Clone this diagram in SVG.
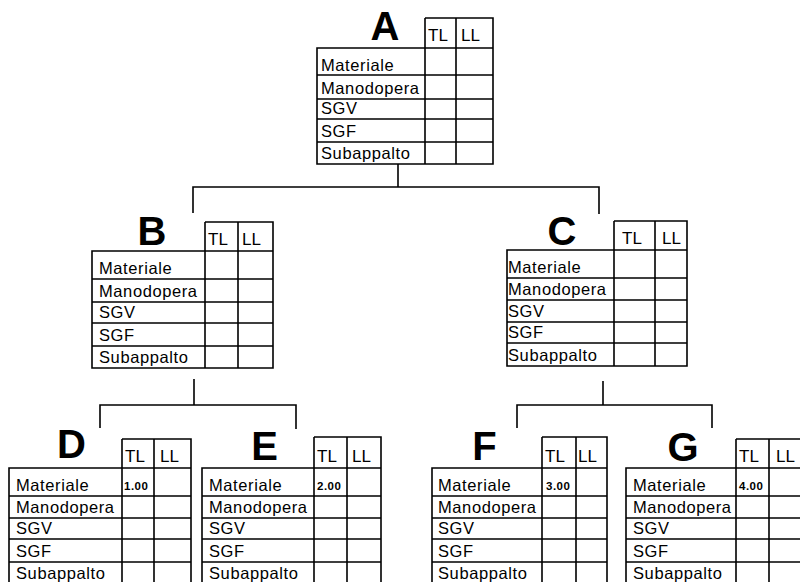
<svg xmlns="http://www.w3.org/2000/svg" width="800" height="582" viewBox="0 0 800 582">
<style>
.t{fill:none;stroke:#000;stroke-width:1.6}
.c{fill:none;stroke:#000;stroke-width:1.6}
.lb{font-family:"Liberation Sans",Arial,sans-serif;font-size:16.5px;letter-spacing:0.6px;fill:#000}
.h{font-family:"Liberation Sans",Arial,sans-serif;font-size:17px;fill:#000}
.big{font-family:"Liberation Sans",Arial,sans-serif;font-size:40px;font-weight:bold;text-anchor:middle;fill:#000}
.v{font-family:"Liberation Sans",Arial,sans-serif;font-size:11.5px;font-weight:bold;letter-spacing:0.5px;fill:#000}
</style>
<rect width="800" height="582" fill="#fff"/>
<g id="connectors">
<path class="c" d="M398,164 V187 M193,213 V187 H599 V214"/>
<path class="c" d="M194,379 V405 M100,428 V405 H296 V429"/>
<path class="c" d="M603,381 V405 M517,428 V405 H712 V428"/>
</g>
<g id="A">
<text class="big" x="385" y="40">A</text>
<path class="t" d="M317,48 H493 V164 H317 Z M425,18 H493 V48 M425,18 V164 M456,18 V164 M317,75 H493 M317,99 H493 M317,119 H493 M317,142 H493"/>
<text class="h" x="428" y="41">TL</text><text class="h" x="461" y="41">LL</text>
<text class="lb" x="321" y="71">Materiale</text>
<text class="lb" x="321" y="94">Manodopera</text>
<text class="lb" x="321" y="114">SGV</text>
<text class="lb" x="321" y="137">SGF</text>
<text class="lb" x="321" y="159">Subappalto</text>
</g>
<g id="B">
<text class="big" x="152" y="245">B</text>
<path class="t" d="M92,251 H273 V368 H92 Z M205,222 H273 V251 M205,222 V368 M238,222 V368 M92,279 H273 M92,302 H273 M92,323 H273 M92,346 H273"/>
<text class="h" x="208" y="245">TL</text><text class="h" x="242" y="245">LL</text>
<text class="lb" x="99" y="274">Materiale</text>
<text class="lb" x="99" y="297">Manodopera</text>
<text class="lb" x="99" y="318">SGV</text>
<text class="lb" x="99" y="341">SGF</text>
<text class="lb" x="99" y="363">Subappalto</text>
</g>
<g id="C">
<text class="big" x="562" y="245">C</text>
<path class="t" d="M507,250 H687 V366 H507 Z M614,221 H687 V250 M614,221 V366 M655,221 V366 M507,278 H687 M507,300 H687 M507,322 H687 M507,343 H687"/>
<text class="h" x="622" y="244">TL</text><text class="h" x="662" y="244">LL</text>
<text class="lb" x="508" y="273">Materiale</text>
<text class="lb" x="508" y="295">Manodopera</text>
<text class="lb" x="508" y="317">SGV</text>
<text class="lb" x="508" y="338">SGF</text>
<text class="lb" x="508" y="361">Subappalto</text>
</g>
<g id="D">
<text class="big" x="71.5" y="458">D</text>
<path class="t" d="M9,468 H191 V592 H9 Z M122,439 H191 V468 M122,439 V592 M154,439 V592 M9,496 H191 M9,518 H191 M9,539 H191 M9,562 H191"/>
<text class="h" x="125" y="462">TL</text><text class="h" x="160" y="462">LL</text>
<text class="v" x="124" y="490">1.00</text>
<text class="lb" x="16" y="491">Materiale</text>
<text class="lb" x="16" y="513">Manodopera</text>
<text class="lb" x="16" y="534">SGV</text>
<text class="lb" x="16" y="557">SGF</text>
<text class="lb" x="16" y="579">Subappalto</text>
</g>
<g id="E">
<text class="big" x="264.5" y="460">E</text>
<path class="t" d="M202,468 H381 V592 H202 Z M314,437 H381 V468 M314,437 V592 M347,437 V592 M202,496 H381 M202,518 H381 M202,539 H381 M202,562 H381"/>
<text class="h" x="317" y="462">TL</text><text class="h" x="352" y="462">LL</text>
<text class="v" x="317" y="490">2.00</text>
<text class="lb" x="209" y="491">Materiale</text>
<text class="lb" x="209" y="513">Manodopera</text>
<text class="lb" x="209" y="534">SGV</text>
<text class="lb" x="209" y="557">SGF</text>
<text class="lb" x="209" y="579">Subappalto</text>
</g>
<g id="F">
<text class="big" x="484.5" y="460">F</text>
<path class="t" d="M432,468 H607 V592 H432 Z M542,437 H607 V468 M542,437 V592 M576,437 V592 M432,496 H607 M432,518 H607 M432,539 H607 M432,562 H607"/>
<text class="h" x="545" y="462">TL</text><text class="h" x="578" y="462">LL</text>
<text class="v" x="546" y="490">3.00</text>
<text class="lb" x="438" y="491">Materiale</text>
<text class="lb" x="438" y="513">Manodopera</text>
<text class="lb" x="438" y="534">SGV</text>
<text class="lb" x="438" y="557">SGF</text>
<text class="lb" x="438" y="579">Subappalto</text>
</g>
<g id="G">
<text class="big" x="683" y="461">G</text>
<path class="t" d="M626,468 H806 V592 H626 Z M736,439 H806 V468 M736,439 V592 M769,439 V592 M626,496 H806 M626,518 H806 M626,539 H806 M626,562 H806"/>
<text class="h" x="739" y="462">TL</text><text class="h" x="776" y="462">LL</text>
<text class="v" x="739" y="490">4.00</text>
<text class="lb" x="633" y="491">Materiale</text>
<text class="lb" x="633" y="513">Manodopera</text>
<text class="lb" x="633" y="534">SGV</text>
<text class="lb" x="633" y="557">SGF</text>
<text class="lb" x="633" y="579">Subappalto</text>
</g>
</svg>
